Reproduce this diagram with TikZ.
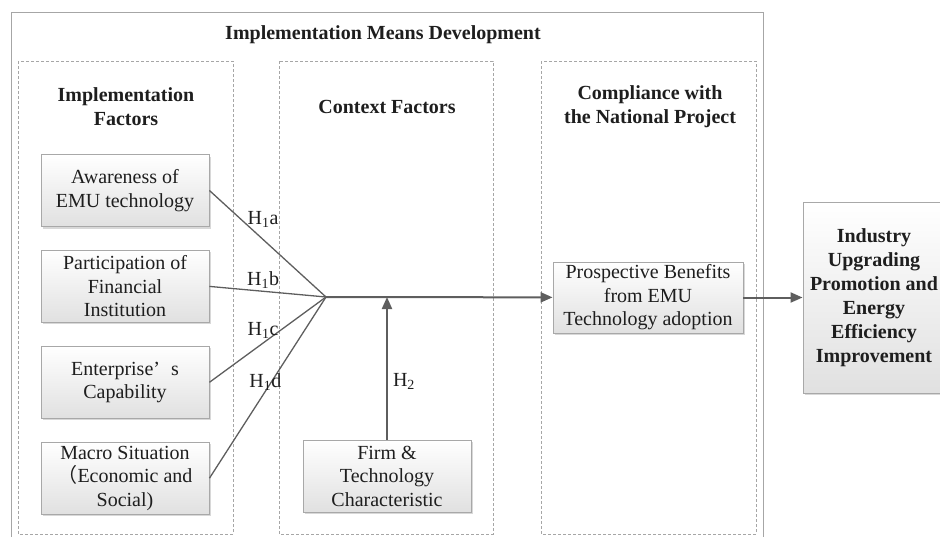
\documentclass[tikz,border=0pt]{standalone}
\usepackage{fontspec}
\setmainfont{Liberation Serif}
\newfontfamily\cjk{Noto Sans CJK SC}
\usetikzlibrary{positioning,arrows.meta,shadows}
\tikzset{>={Triangle[length=12pt,width=10pt]}}
\definecolor{linegray}{HTML}{5E5E5E}
\definecolor{boxedge}{HTML}{A8A8A8}
\definecolor{textdark}{HTML}{1E1E1E}
\tikzset{
  factor/.style={draw=boxedge, line width=0.9pt, top color=white, bottom color=black!12,
    drop shadow={shadow xshift=2pt, shadow yshift=-2pt, fill=black!30},
    minimum width=168pt, minimum height=72pt, inner sep=0pt, align=center,
    font=\fontsize{20}{23.5}\selectfont, text=textdark},
  group/.style={draw=black!35, dashed, dash pattern=on 3pt off 2pt, line width=0.7pt},
  heading/.style={font=\fontsize{20}{24}\selectfont\bfseries, align=center, text=textdark},
  hlab/.style={font=\fontsize{20}{22}\selectfont, text=textdark, inner sep=1pt},
  link/.style={color=linegray, line width=1.3pt},
  flow/.style={color=linegray, line width=2pt, ->}
}

\begin{document}
\begin{tikzpicture}[x=1pt, y=-1pt, node distance=23pt]
        \clip (0,0) rectangle (940,536);
        % frames
        \draw[draw=black!35, line width=1pt] (11,12) rectangle (763,560);
        \draw[group] (18,61) rectangle (233,534);
        \draw[group] (279,61) rectangle (493,534);
        \draw[group] (541,61) rectangle (756,534);

        \node[heading] (tmain) at (383,35) {Implementation Means Development};
        \node[heading] (timpl) at (126,107) {Implementation\\Factors};
        \node[heading] (tctx) at (387,107) {Context Factors};
        \node[heading] (tcomp) at (650,107) {Compliance with\\the National Project};

        % left column
        \node[factor] (aware) at (125,190.5) {Awareness of\\EMU technology};
        \node[factor] (finance) [below=of aware] {Participation of\\Financial\\Institution};
        \node[factor] (capab) [below=of finance] {Enterprise’\hspace{0.55em}s\\Capability};
        \node[factor] (macro) [below=of capab] {Macro Situation\\{\cjk （}Economic and\\Social)};

        \node[factor] (firm) at (387,476) {Firm \&\\Technology\\Characteristic};
        \node[factor, minimum width=190pt, minimum height=71pt] (benefit) at (648,297.5)
          {Prospective Benefits\\from EMU\\Technology adoption};
        \node[factor, minimum width=142pt, minimum height=191pt,
          font=\fontsize{20}{24}\selectfont\bfseries] (industry) at (874,297.5)
          {Industry\\Upgrading\\Promotion and\\Energy\\Efficiency\\Improvement};

        \coordinate (hub) at (326,297);
        \coordinate (join) at (firm.north |- hub);

        \path[link]
        (aware.east) edge node[hlab, pos=0.46, yshift=20pt] {H\textsubscript{1}a} (hub)
        (finance.east) edge node[hlab, pos=0.46, yshift=11pt] {H\textsubscript{1}b} (hub)
        (capab.east) edge node[hlab, pos=0.46, yshift=13pt] {H\textsubscript{1}c} (hub)
        (macro.east) edge node[hlab, pos=0.48, yshift=9pt] {H\textsubscript{1}d} (hub);

        \path[flow]
        (hub) edge (benefit)
        (firm) edge node[hlab, pos=0.41, right=4pt] {H\textsubscript{2}} (join)
        (benefit) edge (industry);
      \end{tikzpicture}
\end{document}
